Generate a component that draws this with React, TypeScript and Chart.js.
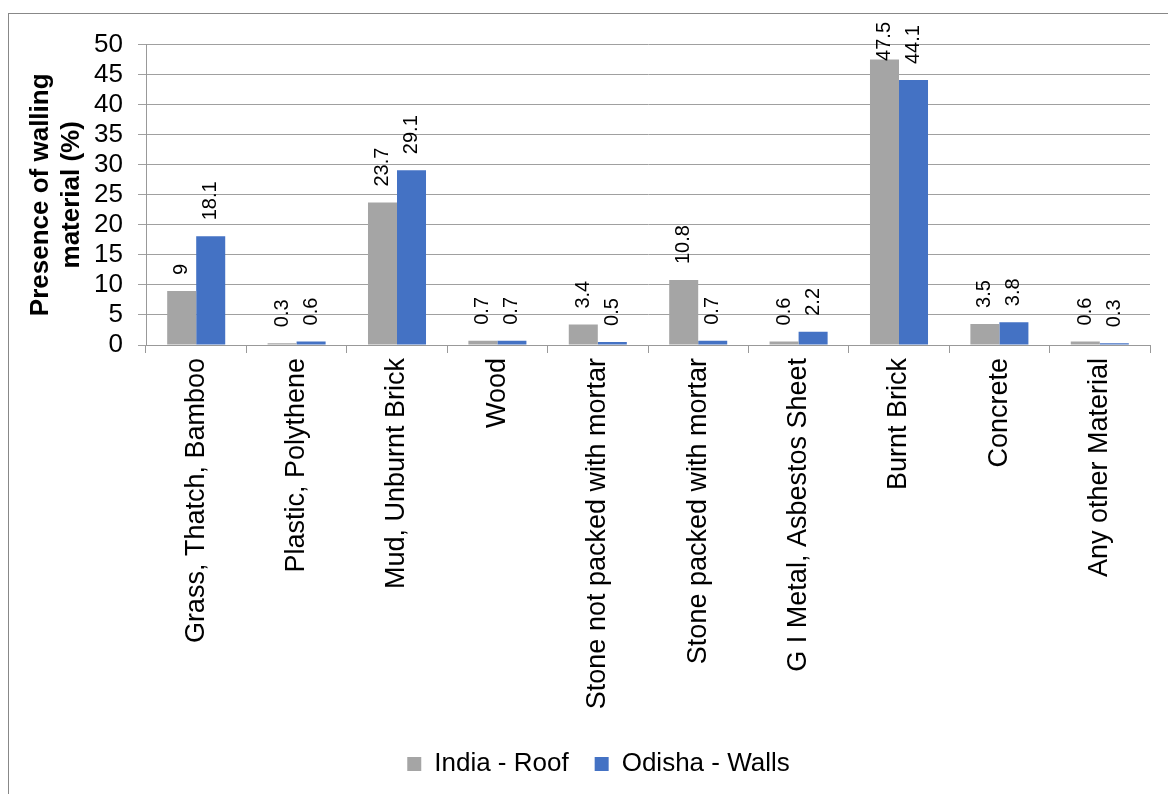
import React, { useEffect, useRef } from "react";
import { Chart, registerables } from "chart.js";

Chart.register(...registerables);

const categories = [
  "Grass, Thatch, Bamboo",
  "Plastic, Polythene",
  "Mud, Unburnt Brick",
  "Wood",
  "Stone not packed with mortar",
  "Stone packed with mortar",
  "G I Metal, Asbestos Sheet",
  "Burnt Brick",
  "Concrete",
  "Any other Material",
];

const indiaRoof = [9, 0.3, 23.7, 0.7, 3.4, 10.8, 0.6, 47.5, 3.5, 0.6];
const odishaWalls = [18.1, 0.6, 29.1, 0.7, 0.5, 0.7, 2.2, 44.1, 3.8, 0.3];

const seriesNames = ["India - Roof", "Odisha - Walls"];
const yTitle = ["Presence of walling", "material (%)"];

const FONT = "'Liberation Sans', Arial, sans-serif";

// Vertical value labels above each bar, kept inside the top of the canvas
const barValueLabels = {
  id: "barValueLabels",
  afterDatasetsDraw(chart: any) {
    const { ctx } = chart;
    const minTop = 8;
    ctx.save();
    ctx.font = `20px ${FONT}`;
    ctx.fillStyle = "#000";
    ctx.textAlign = "left";
    ctx.textBaseline = "middle";
    chart.data.datasets.forEach((ds: any, di: number) => {
      const meta = chart.getDatasetMeta(di);
      meta.data.forEach((bar: any, i: number) => {
        const text = String(ds.data[i]);
        const w = ctx.measureText(text).width;
        let start = bar.y - 16;
        if (start - w < minTop) start = minTop + w;
        ctx.save();
        ctx.translate(bar.x, start);
        ctx.rotate(-Math.PI / 2);
        ctx.fillText(text, 0, 0);
        ctx.restore();
      });
    });
    ctx.restore();
  },
};

// Centre the legend on the whole canvas width rather than the padded layout box
const legendShift = {
  id: "legendShift",
  afterLayout(chart: any) {
    if (chart.legend) {
      chart.legend.left += 19;
      chart.legend.right += 19;
    }
  },
};

export default function App() {
  const canvasRef = useRef<HTMLCanvasElement | null>(null);

  useEffect(() => {
    document.documentElement.style.overflow = "hidden";
    document.body.style.overflow = "hidden";
    const canvas = canvasRef.current;
    if (!canvas) return;
    const chart = new Chart(canvas, {
      type: "bar",
      data: {
        labels: categories,
        datasets: [
          {
            label: seriesNames[0],
            data: indiaRoof,
            backgroundColor: "#A5A5A5",
            categoryPercentage: 0.578,
            barPercentage: 1,
          },
          {
            label: seriesNames[1],
            data: odishaWalls,
            backgroundColor: "#4472C4",
            categoryPercentage: 0.578,
            barPercentage: 1,
          },
        ],
      },
      options: {
        responsive: false,
        animation: false,
        layout: { padding: { top: 30, right: 18, bottom: 27, left: 0 } },
        plugins: {
          legend: {
            position: "bottom",
            labels: {
              font: { family: FONT, size: 26 },
              color: "#000",
              boxWidth: 14,
              boxHeight: 14,
              padding: 26,
            },
          },
          tooltip: { enabled: false },
        },
        scales: {
          x: {
            afterFit(scale: any) {
              scale.height = 380;
            },
            grid: {
              offset: true,
              drawOnChartArea: false,
              tickLength: 8,
              color: "#999",
            },
            border: { color: "#999" },
            ticks: {
              minRotation: 90,
              maxRotation: 90,
              autoSkip: false,
              padding: 5,
              color: "#000",
              font: { family: FONT, size: 27 },
            },
          },
          y: {
            min: 0,
            max: 50,
            afterFit(scale: any) {
              scale.width = 137;
            },
            ticks: {
              stepSize: 5,
              autoSkip: false,
              padding: 15,
              color: "#000",
              font: { family: FONT, size: 26 },
            },
            grid: { color: "#a0a0a0", tickLength: 8 },
            border: { color: "#999" },
            title: {
              display: true,
              text: yTitle,
              color: "#000",
              font: { family: FONT, size: 26, weight: "bold" },
              padding: { top: 16, bottom: 0 },
            },
          },
        },
      },
      plugins: [barValueLabels, legendShift],
    } as any);
    return () => chart.destroy();
  }, []);

  return (
    <div
      style={{
        position: "absolute",
        left: 8,
        top: 13,
        width: 1300,
        height: 900,
        border: "1px solid #888",
        boxSizing: "border-box",
      }}
    >
      <canvas ref={canvasRef} width={1159} height={800} style={{ display: "block" }} />
    </div>
  );
}
